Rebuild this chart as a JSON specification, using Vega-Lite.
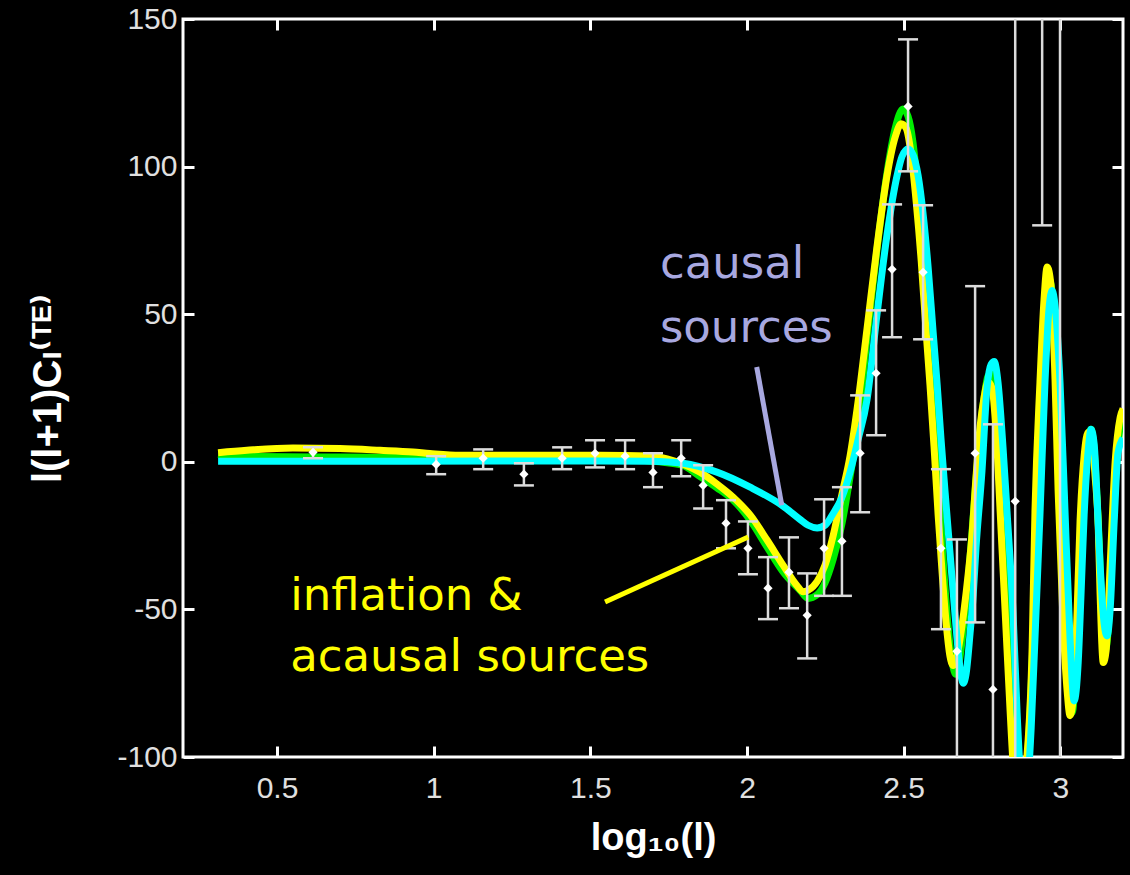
{
  "$schema": "https://vega.github.io/schema/vega-lite/v6.json",
  "background": "black",
  "autosize": "none",
  "width": 940,
  "height": 738,
  "padding": {"left": 183, "top": 19, "right": 7, "bottom": 118},
  "config": {"view": {"stroke": "white", "strokeWidth": 3}},
  "datasets": {
    "curves": [
      {"m":"green","x":0.312,"y":2.5},{"m":"green","x":0.404,"y":1.8},{"m":"green","x":0.701,"y":1.6},{"m":"green","x":0.934,"y":1.5},{"m":"green","x":1.212,"y":1.2},{"m":"green","x":1.531,"y":1.0},{"m":"green","x":1.691,"y":0.3},{"m":"green","x":1.745,"y":-0.3},{"m":"green","x":1.796,"y":-1.2},{"m":"green","x":1.85,"y":-5},{"m":"green","x":1.904,"y":-8.8},{"m":"green","x":1.956,"y":-13},{"m":"green","x":2.01,"y":-19.8},{"m":"green","x":2.064,"y":-28.9},{"m":"green","x":2.115,"y":-37.3},{"m":"green","x":2.169,"y":-43.5},{"m":"green","x":2.195,"y":-46.3},{"m":"green","x":2.224,"y":-45},{"m":"green","x":2.249,"y":-41},{"m":"green","x":2.275,"y":-33},{"m":"green","x":2.303,"y":-21},{"m":"green","x":2.329,"y":-5},{"m":"green","x":2.354,"y":12},{"m":"green","x":2.383,"y":42},{"m":"green","x":2.415,"y":72},{"m":"green","x":2.447,"y":98},{"m":"green","x":2.473,"y":113},{"m":"green","x":2.498,"y":119.5},{"m":"green","x":2.514,"y":117},{"m":"green","x":2.53,"y":108},{"m":"green","x":2.546,"y":91},{"m":"green","x":2.562,"y":71},{"m":"green","x":2.578,"y":48},{"m":"green","x":2.591,"y":28},{"m":"green","x":2.603,"y":6},{"m":"green","x":2.616,"y":-16},{"m":"green","x":2.629,"y":-38},{"m":"green","x":2.642,"y":-56},{"m":"green","x":2.655,"y":-68},{"m":"green","x":2.667,"y":-72},{"m":"green","x":2.68,"y":-66},{"m":"green","x":2.693,"y":-54},{"m":"green","x":2.706,"y":-40},{"m":"green","x":2.718,"y":-24},{"m":"green","x":2.731,"y":-6},{"m":"green","x":2.744,"y":10},{"m":"green","x":2.757,"y":22},{"m":"green","x":2.769,"y":29},{"m":"green","x":2.779,"y":30},{"m":"green","x":2.792,"y":24},{"m":"green","x":2.805,"y":8},{"m":"green","x":2.817,"y":-15},{"m":"green","x":2.833,"y":-50},{"m":"green","x":2.846,"y":-85},{"m":"green","x":2.856,"y":-103},{"m":"green","x":2.872,"y":-116},{"m":"green","x":2.884,"y":-112},{"m":"green","x":2.897,"y":-97},{"m":"green","x":2.913,"y":-60},{"m":"green","x":2.926,"y":-17},{"m":"green","x":2.942,"y":27},{"m":"green","x":2.955,"y":54},{"m":"green","x":2.964,"y":62},{"m":"green","x":2.977,"y":54},{"m":"green","x":2.99,"y":26},{"m":"green","x":3.002,"y":-15},{"m":"green","x":3.015,"y":-55},{"m":"green","x":3.028,"y":-80},{"m":"green","x":3.038,"y":-85},{"m":"green","x":3.05,"y":-68},{"m":"green","x":3.063,"y":-35},{"m":"green","x":3.076,"y":-5},{"m":"green","x":3.089,"y":8},{"m":"green","x":3.098,"y":11},{"m":"green","x":3.108,"y":4},{"m":"green","x":3.121,"y":-20},{"m":"green","x":3.133,"y":-50},{"m":"green","x":3.143,"y":-64},{"m":"green","x":3.152,"y":-58},{"m":"green","x":3.165,"y":-30},{"m":"green","x":3.178,"y":-3},{"m":"green","x":3.191,"y":12},{"m":"green","x":3.2,"y":16},
      {"m":"yellow","x":0.312,"y":3.1},{"m":"yellow","x":0.404,"y":3.9},{"m":"yellow","x":0.551,"y":4.7},{"m":"yellow","x":0.701,"y":4.5},{"m":"yellow","x":0.829,"y":3.9},{"m":"yellow","x":0.934,"y":3.3},{"m":"yellow","x":0.988,"y":2.8},{"m":"yellow","x":1.084,"y":2.2},{"m":"yellow","x":1.531,"y":2.2},{"m":"yellow","x":1.691,"y":2.0},{"m":"yellow","x":1.745,"y":1.0},{"m":"yellow","x":1.796,"y":-0.8},{"m":"yellow","x":1.85,"y":-3.5},{"m":"yellow","x":1.904,"y":-7.5},{"m":"yellow","x":1.956,"y":-12},{"m":"yellow","x":2.01,"y":-18},{"m":"yellow","x":2.064,"y":-26.5},{"m":"yellow","x":2.115,"y":-35},{"m":"yellow","x":2.16,"y":-42},{"m":"yellow","x":2.179,"y":-44},{"m":"yellow","x":2.195,"y":-43.5},{"m":"yellow","x":2.224,"y":-40.5},{"m":"yellow","x":2.249,"y":-35},{"m":"yellow","x":2.275,"y":-25},{"m":"yellow","x":2.303,"y":-11},{"m":"yellow","x":2.329,"y":2},{"m":"yellow","x":2.354,"y":20},{"m":"yellow","x":2.383,"y":45},{"m":"yellow","x":2.415,"y":73},{"m":"yellow","x":2.447,"y":97},{"m":"yellow","x":2.473,"y":110},{"m":"yellow","x":2.492,"y":114.5},{"m":"yellow","x":2.508,"y":113},{"m":"yellow","x":2.524,"y":104},{"m":"yellow","x":2.54,"y":88},{"m":"yellow","x":2.556,"y":68},{"m":"yellow","x":2.571,"y":45},{"m":"yellow","x":2.584,"y":26},{"m":"yellow","x":2.597,"y":5},{"m":"yellow","x":2.61,"y":-18},{"m":"yellow","x":2.623,"y":-38},{"m":"yellow","x":2.635,"y":-54},{"m":"yellow","x":2.648,"y":-66},{"m":"yellow","x":2.658,"y":-69},{"m":"yellow","x":2.667,"y":-67},{"m":"yellow","x":2.68,"y":-60},{"m":"yellow","x":2.693,"y":-50},{"m":"yellow","x":2.706,"y":-38},{"m":"yellow","x":2.718,"y":-25},{"m":"yellow","x":2.731,"y":-5},{"m":"yellow","x":2.744,"y":12},{"m":"yellow","x":2.757,"y":22},{"m":"yellow","x":2.769,"y":27},{"m":"yellow","x":2.782,"y":25},{"m":"yellow","x":2.795,"y":10},{"m":"yellow","x":2.808,"y":-17},{"m":"yellow","x":2.824,"y":-51},{"m":"yellow","x":2.84,"y":-85},{"m":"yellow","x":2.849,"y":-102},{"m":"yellow","x":2.865,"y":-115},{"m":"yellow","x":2.878,"y":-110},{"m":"yellow","x":2.894,"y":-99},{"m":"yellow","x":2.91,"y":-63},{"m":"yellow","x":2.919,"y":-17},{"m":"yellow","x":2.935,"y":27},{"m":"yellow","x":2.948,"y":55},{"m":"yellow","x":2.958,"y":66},{"m":"yellow","x":2.97,"y":60},{"m":"yellow","x":2.983,"y":28},{"m":"yellow","x":2.993,"y":-10},{"m":"yellow","x":3.009,"y":-55},{"m":"yellow","x":3.022,"y":-78},{"m":"yellow","x":3.031,"y":-86},{"m":"yellow","x":3.041,"y":-80},{"m":"yellow","x":3.05,"y":-62},{"m":"yellow","x":3.063,"y":-20},{"m":"yellow","x":3.076,"y":2},{"m":"yellow","x":3.089,"y":10},{"m":"yellow","x":3.098,"y":9},{"m":"yellow","x":3.111,"y":-5},{"m":"yellow","x":3.121,"y":-22},{"m":"yellow","x":3.127,"y":-45},{"m":"yellow","x":3.137,"y":-68},{"m":"yellow","x":3.146,"y":-64},{"m":"yellow","x":3.159,"y":-35},{"m":"yellow","x":3.175,"y":0},{"m":"yellow","x":3.191,"y":15},{"m":"yellow","x":3.2,"y":18},
      {"m":"cyan","x":0.312,"y":0.2},{"m":"cyan","x":0.893,"y":0.2},{"m":"cyan","x":1.531,"y":0.3},{"m":"cyan","x":1.691,"y":0.2},{"m":"cyan","x":1.796,"y":-0.5},{"m":"cyan","x":1.904,"y":-3.5},{"m":"cyan","x":2.01,"y":-8.6},{"m":"cyan","x":2.115,"y":-15},{"m":"cyan","x":2.169,"y":-19.5},{"m":"cyan","x":2.195,"y":-21.5},{"m":"cyan","x":2.224,"y":-22.4},{"m":"cyan","x":2.249,"y":-21.5},{"m":"cyan","x":2.275,"y":-17.5},{"m":"cyan","x":2.303,"y":-12},{"m":"cyan","x":2.329,"y":-3.5},{"m":"cyan","x":2.354,"y":7.3},{"m":"cyan","x":2.383,"y":21},{"m":"cyan","x":2.415,"y":50},{"m":"cyan","x":2.447,"y":77},{"m":"cyan","x":2.479,"y":97},{"m":"cyan","x":2.495,"y":103.5},{"m":"cyan","x":2.514,"y":106},{"m":"cyan","x":2.53,"y":104},{"m":"cyan","x":2.546,"y":97},{"m":"cyan","x":2.562,"y":84},{"m":"cyan","x":2.578,"y":66},{"m":"cyan","x":2.594,"y":44},{"m":"cyan","x":2.607,"y":26},{"m":"cyan","x":2.619,"y":8},{"m":"cyan","x":2.632,"y":-10},{"m":"cyan","x":2.648,"y":-31},{"m":"cyan","x":2.664,"y":-52},{"m":"cyan","x":2.68,"y":-70},{"m":"cyan","x":2.69,"y":-75},{"m":"cyan","x":2.699,"y":-72},{"m":"cyan","x":2.712,"y":-58},{"m":"cyan","x":2.722,"y":-45},{"m":"cyan","x":2.731,"y":-29},{"m":"cyan","x":2.75,"y":-3},{"m":"cyan","x":2.766,"y":25},{"m":"cyan","x":2.779,"y":33},{"m":"cyan","x":2.789,"y":34},{"m":"cyan","x":2.801,"y":27},{"m":"cyan","x":2.817,"y":5},{"m":"cyan","x":2.83,"y":-17},{"m":"cyan","x":2.849,"y":-51},{"m":"cyan","x":2.862,"y":-85},{"m":"cyan","x":2.872,"y":-105},{"m":"cyan","x":2.884,"y":-118},{"m":"cyan","x":2.897,"y":-108},{"m":"cyan","x":2.907,"y":-90},{"m":"cyan","x":2.919,"y":-60},{"m":"cyan","x":2.935,"y":-18},{"m":"cyan","x":2.951,"y":27},{"m":"cyan","x":2.964,"y":52},{"m":"cyan","x":2.974,"y":58},{"m":"cyan","x":2.983,"y":53},{"m":"cyan","x":2.999,"y":27},{"m":"cyan","x":3.015,"y":-17},{"m":"cyan","x":3.031,"y":-60},{"m":"cyan","x":3.044,"y":-81},{"m":"cyan","x":3.057,"y":-68},{"m":"cyan","x":3.066,"y":-45},{"m":"cyan","x":3.076,"y":-18},{"m":"cyan","x":3.089,"y":4},{"m":"cyan","x":3.098,"y":11},{"m":"cyan","x":3.108,"y":6},{"m":"cyan","x":3.117,"y":-12},{"m":"cyan","x":3.127,"y":-35},{"m":"cyan","x":3.14,"y":-55},{"m":"cyan","x":3.149,"y":-59},{"m":"cyan","x":3.159,"y":-50},{"m":"cyan","x":3.172,"y":-20},{"m":"cyan","x":3.184,"y":3},{"m":"cyan","x":3.2,"y":8}
    ],
    "points": [
      {"x":0.615,"y":3.2,"lo":1.2,"hi":4.9},
      {"x":1.008,"y":-0.9,"lo":-4.2,"hi":1.9},
      {"x":1.158,"y":1.2,"lo":-2.5,"hi":4.2},
      {"x":1.288,"y":-4.2,"lo":-8,"hi":-0.5},
      {"x":1.41,"y":1.2,"lo":-2.5,"hi":4.9},
      {"x":1.515,"y":2.9,"lo":-1.9,"hi":7.3},
      {"x":1.611,"y":1.9,"lo":-2.5,"hi":7.3},
      {"x":1.7,"y":-3.6,"lo":-8.6,"hi":2.9},
      {"x":1.79,"y":1.2,"lo":-4.9,"hi":7.3},
      {"x":1.86,"y":-8,"lo":-15.8,"hi":-1.2},
      {"x":1.933,"y":-20.8,"lo":-29.3,"hi":-13},
      {"x":2.003,"y":-29.3,"lo":-38.1,"hi":-20.2},
      {"x":2.067,"y":-42.8,"lo":-53.3,"hi":-32.3},
      {"x":2.134,"y":-37.4,"lo":-49.6,"hi":-25.6},
      {"x":2.192,"y":-52,"lo":-66.6,"hi":-37.8},
      {"x":2.246,"y":-29.3,"lo":-45.4,"hi":-12.7},
      {"x":2.303,"y":-26.9,"lo":-45.4,"hi":-8.6},
      {"x":2.361,"y":2.9,"lo":-17.1,"hi":22.5},
      {"x":2.412,"y":30,"lo":9,"hi":51.3},
      {"x":2.463,"y":65.2,"lo":42.2,"hi":87.2},
      {"x":2.514,"y":120.4,"lo":98.4,"hi":143.1},
      {"x":2.562,"y":64.2,"lo":41.5,"hi":86.9},
      {"x":2.619,"y":-29.3,"lo":-56.7,"hi":-2.5},
      {"x":2.67,"y":-64.2,"lo":-105,"hi":-26.3},
      {"x":2.728,"y":2.9,"lo":-54.4,"hi":59.5},
      {"x":2.785,"y":-77.1,"lo":-167,"hi":12.7},
      {"x":2.856,"y":-13.4,"lo":-230,"hi":200},
      {"x":2.942,"y":180,"lo":80.1,"hi":280},
      {"x":2.999,"y":200,"lo":-150,"hi":550}
    ],
    "texts": [
      {"g":"inf","t":"inflation &\nacausal sources","x":0.542,"y":-50.3},
      {"g":"cau","t":"causal\nsources","x":1.722,"y":62.2}
    ],
    "pointers": [
      {"g":"cau","x":2.031,"y":32.1,"x2":2.111,"y2":-14.7},
      {"g":"inf","x":1.547,"y":-47.5,"x2":2.004,"y2":-25.5}
    ]
  },
  "resolve": {"axis": {"x": "independent", "y": "independent"}},
  "layer": [
    {
      "data": {"name": "curves"},
      "transform": [{"filter": "datum.m === 'green'"}],
      "mark": {"type": "line", "color": "#00ee00", "strokeWidth": 7, "interpolate": "monotone", "clip": true},
      "encoding": {
        "x": {"field": "x", "type": "quantitative",
          "scale": {"domain": [0.2, 3.2], "nice": false, "zero": false},
          "axis": {"orient": "bottom", "values": [0.5, 1, 1.5, 2, 2.5, 3], "labelExpr": "'' + datum.value",
            "grid": false, "domain": false, "offset": -11, "tickSize": 11, "tickWidth": 3, "tickColor": "white",
            "labelPadding": 16, "labelFontSize": 30, "labelFont": "Liberation Sans Narrow, Liberation Sans", "labelColor": "#e0e0e0",
            "title": "log₁₀(l)", "titleFont": "Liberation Sans, DejaVu Sans", "titleFontSize": 38, "titleFontWeight": "bold", "titleColor": "white", "titlePadding": 16}},
        "y": {"field": "y", "type": "quantitative",
          "scale": {"domain": [-100, 150], "nice": false, "zero": false},
          "axis": {"orient": "left", "values": [-100, -50, 0, 50, 100, 150], "labelExpr": "'' + datum.value",
            "grid": false, "domain": false, "offset": -11, "tickSize": 11, "tickWidth": 3, "tickColor": "white",
            "labelPadding": 6, "labelFontSize": 30, "labelFont": "Liberation Sans Narrow, Liberation Sans", "labelColor": "#e0e0e0",
            "title": "l(l+1)Cₗ⁽ᵀᴱ⁾", "titleFont": "Liberation Sans, DejaVu Sans", "titleFontSize": 40, "titleFontWeight": "bold", "titleColor": "white", "titlePadding": 48}}
      }
    },
    {
      "data": {"name": "curves"},
      "transform": [{"filter": "datum.m === 'yellow'"}],
      "mark": {"type": "line", "color": "#ffff00", "strokeWidth": 7, "interpolate": "monotone", "clip": true},
      "encoding": {
        "x": {"field": "x", "type": "quantitative", "axis": null},
        "y": {"field": "y", "type": "quantitative", "axis": null}
      }
    },
    {
      "data": {"name": "curves"},
      "transform": [{"filter": "datum.m === 'cyan'"}],
      "mark": {"type": "line", "color": "#00ffff", "strokeWidth": 7, "interpolate": "monotone", "clip": true},
      "encoding": {
        "x": {"field": "x", "type": "quantitative",
          "axis": {"orient": "top", "values": [0.5, 1, 1.5, 2, 2.5, 3], "labels": false, "grid": false, "domain": false,
            "offset": -11, "tickSize": 11, "tickWidth": 3, "tickColor": "white", "title": null}},
        "y": {"field": "y", "type": "quantitative",
          "axis": {"orient": "right", "values": [-100, -50, 0, 50, 100, 150], "labels": false, "grid": false, "domain": false,
            "offset": -11, "tickSize": 11, "tickWidth": 3, "tickColor": "white", "title": null}}
      }
    },
    {
      "data": {"name": "points"},
      "mark": {"type": "rule", "color": "#dcdcdc", "strokeWidth": 2.5, "clip": true},
      "encoding": {
        "x": {"field": "x", "type": "quantitative", "axis": null},
        "y": {"field": "lo", "type": "quantitative", "axis": null},
        "y2": {"field": "hi"}
      }
    },
    {
      "data": {"name": "points"},
      "mark": {"type": "tick", "orient": "horizontal", "color": "#dcdcdc", "size": 20, "thickness": 2.5, "opacity": 1, "clip": true},
      "encoding": {
        "x": {"field": "x", "type": "quantitative", "axis": null},
        "y": {"field": "lo", "type": "quantitative", "axis": null}
      }
    },
    {
      "data": {"name": "points"},
      "mark": {"type": "tick", "orient": "horizontal", "color": "#dcdcdc", "size": 20, "thickness": 2.5, "opacity": 1, "clip": true},
      "encoding": {
        "x": {"field": "x", "type": "quantitative", "axis": null},
        "y": {"field": "hi", "type": "quantitative", "axis": null}
      }
    },
    {
      "data": {"name": "points"},
      "mark": {"type": "point", "shape": "diamond", "filled": true, "color": "white", "opacity": 1, "size": 85, "clip": true},
      "encoding": {
        "x": {"field": "x", "type": "quantitative", "axis": null},
        "y": {"field": "y", "type": "quantitative", "axis": null}
      }
    },
    {
      "data": {"name": "pointers"},
      "transform": [{"filter": "datum.g === 'cau'"}],
      "mark": {"type": "rule", "color": "#a8a8e0", "strokeWidth": 5},
      "encoding": {
        "x": {"field": "x", "type": "quantitative", "axis": null},
        "y": {"field": "y", "type": "quantitative", "axis": null},
        "x2": {"field": "x2"},
        "y2": {"field": "y2"}
      }
    },
    {
      "data": {"name": "pointers"},
      "transform": [{"filter": "datum.g === 'inf'"}],
      "mark": {"type": "rule", "color": "#ffff00", "strokeWidth": 5},
      "encoding": {
        "x": {"field": "x", "type": "quantitative", "axis": null},
        "y": {"field": "y", "type": "quantitative", "axis": null},
        "x2": {"field": "x2"},
        "y2": {"field": "y2"}
      }
    },
    {
      "data": {"name": "texts"},
      "transform": [{"filter": "datum.g === 'cau'"}],
      "mark": {"type": "text", "align": "left", "baseline": "alphabetic", "lineBreak": "\n", "lineHeight": 64, "font": "DejaVu Sans", "fontSize": 45, "color": "#a8a8e0"},
      "encoding": {
        "x": {"field": "x", "type": "quantitative", "axis": null},
        "y": {"field": "y", "type": "quantitative", "axis": null},
        "text": {"field": "t"}
      }
    },
    {
      "data": {"name": "texts"},
      "transform": [{"filter": "datum.g === 'inf'"}],
      "mark": {"type": "text", "align": "left", "baseline": "alphabetic", "lineBreak": "\n", "lineHeight": 61, "font": "DejaVu Sans", "fontSize": 45, "color": "#ffff00"},
      "encoding": {
        "x": {"field": "x", "type": "quantitative", "axis": null},
        "y": {"field": "y", "type": "quantitative", "axis": null},
        "text": {"field": "t"}
      }
    }
  ]
}
